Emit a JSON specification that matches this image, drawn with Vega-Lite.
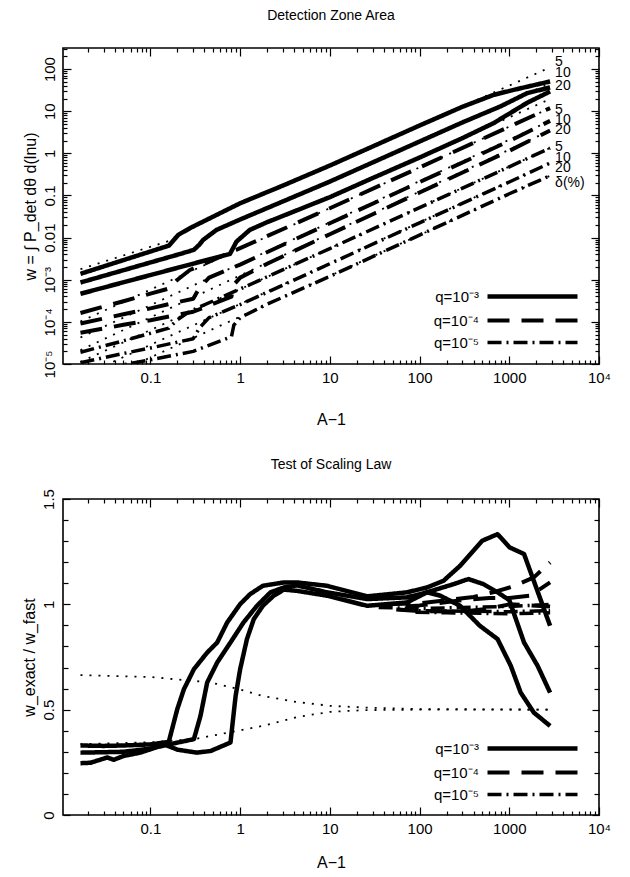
{
"$schema":"https://vega.github.io/schema/vega-lite/v6.json",
"background":"white",
"padding":{"left":20,"top":8,"right":5,"bottom":5},
"spacing":28,
"config":{
 "font":"Liberation Sans",
 "view":{"stroke":"black","strokeWidth":1.6},
 "axis":{"domain":false,"grid":false,"tickColor":"black","tickWidth":1.2,"labelColor":"black","titleColor":"black","labelFont":"Liberation Sans","labelFontSize":15,"titleFont":"Liberation Sans","titleFontSize":16,"titleFontWeight":"normal","labelOverlap":false,"labelFlush":false},
 "legend":{"labelFont":"Liberation Sans","labelFontSize":15,"labelColor":"black"},
 "title":{"font":"Liberation Sans","fontSize":14,"fontWeight":"normal","color":"black","anchor":"middle"}
},
"resolve":{"scale":{"strokeDash":"independent","strokeWidth":"independent"},"legend":{"strokeDash":"independent","strokeWidth":"independent"}},
"datasets":{
 "topExact":[
  {"A":0.0166,"w":0.00138,"q":"q=10⁻³","id":"3-5"},{"A":0.05,"w":0.002924,"q":"q=10⁻³","id":"3-5"},{"A":0.1,"w":0.004677,"q":"q=10⁻³","id":"3-5"},{"A":0.161,"w":0.006457,"q":"q=10⁻³","id":"3-5"},{"A":0.18,"w":0.008511,"q":"q=10⁻³","id":"3-5"},{"A":0.204,"w":0.01159,"q":"q=10⁻³","id":"3-5"},{"A":0.275,"w":0.01671,"q":"q=10⁻³","id":"3-5"},{"A":0.4,"w":0.02483,"q":"q=10⁻³","id":"3-5"},{"A":1,"w":0.06531,"q":"q=10⁻³","id":"3-5"},{"A":3,"w":0.1718,"q":"q=10⁻³","id":"3-5"},{"A":10,"w":0.5129,"q":"q=10⁻³","id":"3-5"},{"A":30,"w":1.455,"q":"q=10⁻³","id":"3-5"},{"A":100,"w":4.571,"q":"q=10⁻³","id":"3-5"},{"A":300,"w":12.71,"q":"q=10⁻³","id":"3-5"},{"A":673,"w":24.49,"q":"q=10⁻³","id":"3-5"},{"A":1125,"w":32.14,"q":"q=10⁻³","id":"3-5"},{"A":2850,"w":50.82,"q":"q=10⁻³","id":"3-5"},
  {"A":0.0166,"w":0.000859,"q":"q=10⁻³","id":"3-10"},{"A":0.05,"w":0.001683,"q":"q=10⁻³","id":"3-10"},{"A":0.1,"w":0.00257,"q":"q=10⁻³","id":"3-10"},{"A":0.2,"w":0.003917,"q":"q=10⁻³","id":"3-10"},{"A":0.305,"w":0.005117,"q":"q=10⁻³","id":"3-10"},{"A":0.35,"w":0.006761,"q":"q=10⁻³","id":"3-10"},{"A":0.387,"w":0.00881,"q":"q=10⁻³","id":"3-10"},{"A":0.545,"w":0.01521,"q":"q=10⁻³","id":"3-10"},{"A":1,"w":0.02692,"q":"q=10⁻³","id":"3-10"},{"A":3,"w":0.07228,"q":"q=10⁻³","id":"3-10"},{"A":10,"w":0.2138,"q":"q=10⁻³","id":"3-10"},{"A":30,"w":0.6067,"q":"q=10⁻³","id":"3-10"},{"A":100,"w":1.905,"q":"q=10⁻³","id":"3-10"},{"A":300,"w":5.408,"q":"q=10⁻³","id":"3-10"},{"A":798,"w":13.0,"q":"q=10⁻³","id":"3-10"},{"A":1585,"w":26.85,"q":"q=10⁻³","id":"3-10"},{"A":2850,"w":36.6,"q":"q=10⁻³","id":"3-10"},
  {"A":0.0166,"w":0.0004634,"q":"q=10⁻³","id":"3-20"},{"A":0.05,"w":0.000869,"q":"q=10⁻³","id":"3-20"},{"A":0.1,"w":0.001291,"q":"q=10⁻³","id":"3-20"},{"A":0.3,"w":0.00241,"q":"q=10⁻³","id":"3-20"},{"A":0.77,"w":0.004111,"q":"q=10⁻³","id":"3-20"},{"A":0.91,"w":0.008035,"q":"q=10⁻³","id":"3-20"},{"A":1.28,"w":0.01521,"q":"q=10⁻³","id":"3-20"},{"A":2,"w":0.02323,"q":"q=10⁻³","id":"3-20"},{"A":3,"w":0.03273,"q":"q=10⁻³","id":"3-20"},{"A":10,"w":0.0912,"q":"q=10⁻³","id":"3-20"},{"A":30,"w":0.2588,"q":"q=10⁻³","id":"3-20"},{"A":100,"w":0.7943,"q":"q=10⁻³","id":"3-20"},{"A":300,"w":2.291,"q":"q=10⁻³","id":"3-20"},{"A":673,"w":5.248,"q":"q=10⁻³","id":"3-20"},{"A":1585,"w":15.85,"q":"q=10⁻³","id":"3-20"},{"A":2850,"w":29.4,"q":"q=10⁻³","id":"3-20"},
  {"A":0.0166,"w":0.0001622,"q":"q=10⁻⁴","id":"4-5"},{"A":0.05,"w":0.000309,"q":"q=10⁻⁴","id":"4-5"},{"A":0.1,"w":0.0004677,"q":"q=10⁻⁴","id":"4-5"},{"A":0.16,"w":0.0006166,"q":"q=10⁻⁴","id":"4-5"},{"A":0.2,"w":0.001,"q":"q=10⁻⁴","id":"4-5"},{"A":0.275,"w":0.001698,"q":"q=10⁻⁴","id":"4-5"},{"A":1,"w":0.005623,"q":"q=10⁻⁴","id":"4-5"},{"A":10,"w":0.04977,"q":"q=10⁻⁴","id":"4-5"},{"A":100,"w":0.4624,"q":"q=10⁻⁴","id":"4-5"},{"A":1000,"w":4.295,"q":"q=10⁻⁴","id":"4-5"},{"A":2850,"w":11.86,"q":"q=10⁻⁴","id":"4-5"},
  {"A":0.0166,"w":0.0000912,"q":"q=10⁻⁴","id":"4-10"},{"A":0.05,"w":0.0001514,"q":"q=10⁻⁴","id":"4-10"},{"A":0.1,"w":0.0002089,"q":"q=10⁻⁴","id":"4-10"},{"A":0.3,"w":0.0003548,"q":"q=10⁻⁴","id":"4-10"},{"A":0.35,"w":0.000631,"q":"q=10⁻⁴","id":"4-10"},{"A":0.45,"w":0.001122,"q":"q=10⁻⁴","id":"4-10"},{"A":1,"w":0.002291,"q":"q=10⁻⁴","id":"4-10"},{"A":10,"w":0.02188,"q":"q=10⁻⁴","id":"4-10"},{"A":100,"w":0.207,"q":"q=10⁻⁴","id":"4-10"},{"A":1000,"w":1.959,"q":"q=10⁻⁴","id":"4-10"},{"A":2850,"w":5.888,"q":"q=10⁻⁴","id":"4-10"},
  {"A":0.0166,"w":0.00005495,"q":"q=10⁻⁴","id":"4-20"},{"A":0.05,"w":0.00008511,"q":"q=10⁻⁴","id":"4-20"},{"A":0.1,"w":0.0001096,"q":"q=10⁻⁴","id":"4-20"},{"A":0.3,"w":0.0001738,"q":"q=10⁻⁴","id":"4-20"},{"A":0.8,"w":0.0003981,"q":"q=10⁻⁴","id":"4-20"},{"A":0.85,"w":0.0007586,"q":"q=10⁻⁴","id":"4-20"},{"A":1,"w":0.001122,"q":"q=10⁻⁴","id":"4-20"},{"A":2,"w":0.002399,"q":"q=10⁻⁴","id":"4-20"},{"A":10,"w":0.01202,"q":"q=10⁻⁴","id":"4-20"},{"A":100,"w":0.1175,"q":"q=10⁻⁴","id":"4-20"},{"A":1000,"w":1.148,"q":"q=10⁻⁴","id":"4-20"},{"A":2850,"w":3.467,"q":"q=10⁻⁴","id":"4-20"},
  {"A":0.0166,"w":0.00001905,"q":"q=10⁻⁵","id":"5-5"},{"A":0.05,"w":0.00003548,"q":"q=10⁻⁵","id":"5-5"},{"A":0.16,"w":0.00007079,"q":"q=10⁻⁵","id":"5-5"},{"A":0.2,"w":0.0001122,"q":"q=10⁻⁵","id":"5-5"},{"A":0.275,"w":0.0001778,"q":"q=10⁻⁵","id":"5-5"},{"A":1,"w":0.0006026,"q":"q=10⁻⁵","id":"5-5"},{"A":10,"w":0.005495,"q":"q=10⁻⁵","id":"5-5"},{"A":100,"w":0.05129,"q":"q=10⁻⁵","id":"5-5"},{"A":1000,"w":0.4786,"q":"q=10⁻⁵","id":"5-5"},{"A":2850,"w":1.337,"q":"q=10⁻⁵","id":"5-5"},
  {"A":0.0166,"w":0.00001072,"q":"q=10⁻⁵","id":"5-10"},{"A":0.05,"w":0.00001778,"q":"q=10⁻⁵","id":"5-10"},{"A":0.1,"w":0.00002399,"q":"q=10⁻⁵","id":"5-10"},{"A":0.3,"w":0.00003981,"q":"q=10⁻⁵","id":"5-10"},{"A":0.35,"w":0.00007079,"q":"q=10⁻⁵","id":"5-10"},{"A":0.45,"w":0.0001259,"q":"q=10⁻⁵","id":"5-10"},{"A":1,"w":0.000257,"q":"q=10⁻⁵","id":"5-10"},{"A":10,"w":0.002399,"q":"q=10⁻⁵","id":"5-10"},{"A":100,"w":0.02239,"q":"q=10⁻⁵","id":"5-10"},{"A":1000,"w":0.2089,"q":"q=10⁻⁵","id":"5-10"},{"A":2850,"w":0.5888,"q":"q=10⁻⁵","id":"5-10"},
  {"A":0.0166,"w":0.00000631,"q":"q=10⁻⁵","id":"5-20"},{"A":0.05,"w":0.00000955,"q":"q=10⁻⁵","id":"5-20"},{"A":0.1,"w":0.00001259,"q":"q=10⁻⁵","id":"5-20"},{"A":0.3,"w":0.00001995,"q":"q=10⁻⁵","id":"5-20"},{"A":0.8,"w":0.00004467,"q":"q=10⁻⁵","id":"5-20"},{"A":0.85,"w":0.00008318,"q":"q=10⁻⁵","id":"5-20"},{"A":1,"w":0.0001259,"q":"q=10⁻⁵","id":"5-20"},{"A":2,"w":0.000263,"q":"q=10⁻⁵","id":"5-20"},{"A":10,"w":0.001202,"q":"q=10⁻⁵","id":"5-20"},{"A":100,"w":0.01148,"q":"q=10⁻⁵","id":"5-20"},{"A":1000,"w":0.1096,"q":"q=10⁻⁵","id":"5-20"},{"A":2850,"w":0.2944,"q":"q=10⁻⁵","id":"5-20"}
 ],
 "topFast":[
  {"A":0.0166,"w":0.001778,"id":"3-5"},{"A":0.16,"w":0.008318,"id":"3-5"},{"A":0.3,"w":0.01995,"id":"3-5"},{"A":1,"w":0.06531,"id":"3-5"},{"A":10,"w":0.5129,"id":"3-5"},{"A":100,"w":4.571,"id":"3-5"},{"A":2850,"w":109.6,"id":"3-5"},
  {"A":10,"w":0.2138,"id":"3-10"},{"A":100,"w":1.905,"id":"3-10"},{"A":2850,"w":45.71,"id":"3-10"},
  {"A":10,"w":0.0912,"id":"3-20"},{"A":100,"w":0.7943,"id":"3-20"},{"A":2850,"w":19.5,"id":"3-20"},
  {"A":0.0166,"w":0.0001023,"id":"4-5"},{"A":2850,"w":11.86,"id":"4-5"},
  {"A":0.0166,"w":0.00004266,"id":"4-10"},{"A":2850,"w":5.888,"id":"4-10"},
  {"A":0.0166,"w":0.00002138,"id":"4-20"},{"A":2850,"w":3.467,"id":"4-20"},
  {"A":0.0166,"w":0.00001122,"id":"5-5"},{"A":2850,"w":1.337,"id":"5-5"},
  {"A":0.0166,"w":0.000005012,"id":"5-10"},{"A":2850,"w":0.5888,"id":"5-10"},
  {"A":0.0166,"w":0.000002512,"id":"5-20"},{"A":2850,"w":0.2944,"id":"5-20"}
 ],
 "topLabels":[
  {"A":2850,"w":148,"t":"5"},{"A":2850,"w":78.7,"t":"10"},{"A":2850,"w":39.4,"t":"20"},
  {"A":2850,"w":10.6,"t":"5"},{"A":2850,"w":6.15,"t":"10"},{"A":2850,"w":3.56,"t":"20"},
  {"A":2850,"w":1.43,"t":"5"},{"A":2850,"w":0.774,"t":"10"},{"A":2850,"w":0.449,"t":"20"},
  {"A":2850,"w":0.198,"t":"δ(%)"}
 ],
 "botExact":[
  {"A":0.0166,"r":0.33,"q":"q=10⁻³","id":"3-5"},{"A":0.03,"r":0.328,"q":"q=10⁻³","id":"3-5"},{"A":0.05,"r":0.33,"q":"q=10⁻³","id":"3-5"},{"A":0.1,"r":0.335,"q":"q=10⁻³","id":"3-5"},{"A":0.16,"r":0.347,"q":"q=10⁻³","id":"3-5"},{"A":0.199,"r":0.502,"q":"q=10⁻³","id":"3-5"},{"A":0.236,"r":0.597,"q":"q=10⁻³","id":"3-5"},{"A":0.305,"r":0.692,"q":"q=10⁻³","id":"3-5"},{"A":0.429,"r":0.771,"q":"q=10⁻³","id":"3-5"},{"A":0.555,"r":0.819,"q":"q=10⁻³","id":"3-5"},{"A":0.717,"r":0.914,"q":"q=10⁻³","id":"3-5"},{"A":1.0,"r":1.001,"q":"q=10⁻³","id":"3-5"},{"A":1.29,"r":1.048,"q":"q=10⁻³","id":"3-5"},{"A":1.79,"r":1.088,"q":"q=10⁻³","id":"3-5"},{"A":3.07,"r":1.104,"q":"q=10⁻³","id":"3-5"},{"A":4.3,"r":1.104,"q":"q=10⁻³","id":"3-5"},{"A":9.3,"r":1.088,"q":"q=10⁻³","id":"3-5"},{"A":26,"r":1.038,"q":"q=10⁻³","id":"3-5"},{"A":72.5,"r":1.057,"q":"q=10⁻³","id":"3-5"},{"A":121,"r":1.08,"q":"q=10⁻³","id":"3-5"},{"A":185,"r":1.112,"q":"q=10⁻³","id":"3-5"},{"A":283,"r":1.183,"q":"q=10⁻³","id":"3-5"},{"A":500,"r":1.302,"q":"q=10⁻³","id":"3-5"},{"A":740,"r":1.333,"q":"q=10⁻³","id":"3-5"},{"A":1010,"r":1.27,"q":"q=10⁻³","id":"3-5"},{"A":1460,"r":1.239,"q":"q=10⁻³","id":"3-5"},{"A":2850,"r":0.898,"q":"q=10⁻³","id":"3-5"},
  {"A":0.0166,"r":0.296,"q":"q=10⁻³","id":"3-10"},{"A":0.03,"r":0.298,"q":"q=10⁻³","id":"3-10"},{"A":0.05,"r":0.3,"q":"q=10⁻³","id":"3-10"},{"A":0.1,"r":0.315,"q":"q=10⁻³","id":"3-10"},{"A":0.16,"r":0.335,"q":"q=10⁻³","id":"3-10"},{"A":0.305,"r":0.36,"q":"q=10⁻³","id":"3-10"},{"A":0.361,"r":0.47,"q":"q=10⁻³","id":"3-10"},{"A":0.429,"r":0.629,"q":"q=10⁻³","id":"3-10"},{"A":0.555,"r":0.724,"q":"q=10⁻³","id":"3-10"},{"A":0.78,"r":0.819,"q":"q=10⁻³","id":"3-10"},{"A":1.09,"r":0.914,"q":"q=10⁻³","id":"3-10"},{"A":1.54,"r":0.993,"q":"q=10⁻³","id":"3-10"},{"A":2.18,"r":1.057,"q":"q=10⁻³","id":"3-10"},{"A":3.07,"r":1.08,"q":"q=10⁻³","id":"3-10"},{"A":4.3,"r":1.09,"q":"q=10⁻³","id":"3-10"},{"A":9.3,"r":1.057,"q":"q=10⁻³","id":"3-10"},{"A":26,"r":1.025,"q":"q=10⁻³","id":"3-10"},{"A":72.5,"r":1.033,"q":"q=10⁻³","id":"3-10"},{"A":121,"r":1.057,"q":"q=10⁻³","id":"3-10"},{"A":240,"r":1.096,"q":"q=10⁻³","id":"3-10"},{"A":350,"r":1.12,"q":"q=10⁻³","id":"3-10"},{"A":515,"r":1.096,"q":"q=10⁻³","id":"3-10"},{"A":740,"r":1.057,"q":"q=10⁻³","id":"3-10"},{"A":1000,"r":1.02,"q":"q=10⁻³","id":"3-10"},{"A":1460,"r":0.819,"q":"q=10⁻³","id":"3-10"},{"A":2070,"r":0.708,"q":"q=10⁻³","id":"3-10"},{"A":2850,"r":0.581,"q":"q=10⁻³","id":"3-10"},
  {"A":0.0166,"r":0.246,"q":"q=10⁻³","id":"3-20"},{"A":0.0215,"r":0.248,"q":"q=10⁻³","id":"3-20"},{"A":0.033,"r":0.273,"q":"q=10⁻³","id":"3-20"},{"A":0.039,"r":0.262,"q":"q=10⁻³","id":"3-20"},{"A":0.05,"r":0.28,"q":"q=10⁻³","id":"3-20"},{"A":0.077,"r":0.296,"q":"q=10⁻³","id":"3-20"},{"A":0.1,"r":0.312,"q":"q=10⁻³","id":"3-20"},{"A":0.141,"r":0.336,"q":"q=10⁻³","id":"3-20"},{"A":0.2,"r":0.31,"q":"q=10⁻³","id":"3-20"},{"A":0.33,"r":0.296,"q":"q=10⁻³","id":"3-20"},{"A":0.47,"r":0.304,"q":"q=10⁻³","id":"3-20"},{"A":0.78,"r":0.344,"q":"q=10⁻³","id":"3-20"},{"A":0.89,"r":0.565,"q":"q=10⁻³","id":"3-20"},{"A":1.0,"r":0.692,"q":"q=10⁻³","id":"3-20"},{"A":1.19,"r":0.835,"q":"q=10⁻³","id":"3-20"},{"A":1.42,"r":0.93,"q":"q=10⁻³","id":"3-20"},{"A":1.79,"r":0.993,"q":"q=10⁻³","id":"3-20"},{"A":2.35,"r":1.04,"q":"q=10⁻³","id":"3-20"},{"A":3.07,"r":1.07,"q":"q=10⁻³","id":"3-20"},{"A":4.3,"r":1.064,"q":"q=10⁻³","id":"3-20"},{"A":9.3,"r":1.041,"q":"q=10⁻³","id":"3-20"},{"A":26,"r":0.993,"q":"q=10⁻³","id":"3-20"},{"A":72.5,"r":1.009,"q":"q=10⁻³","id":"3-20"},{"A":121,"r":1.057,"q":"q=10⁻³","id":"3-20"},{"A":170,"r":1.041,"q":"q=10⁻³","id":"3-20"},{"A":283,"r":0.993,"q":"q=10⁻³","id":"3-20"},{"A":470,"r":0.898,"q":"q=10⁻³","id":"3-20"},{"A":740,"r":0.835,"q":"q=10⁻³","id":"3-20"},{"A":1040,"r":0.708,"q":"q=10⁻³","id":"3-20"},{"A":1340,"r":0.581,"q":"q=10⁻³","id":"3-20"},{"A":1880,"r":0.486,"q":"q=10⁻³","id":"3-20"},{"A":2850,"r":0.423,"q":"q=10⁻³","id":"3-20"},
  {"A":45,"r":1.0,"q":"q=10⁻⁴","id":"4-5"},{"A":100,"r":1.005,"q":"q=10⁻⁴","id":"4-5"},{"A":200,"r":1.02,"q":"q=10⁻⁴","id":"4-5"},{"A":400,"r":1.035,"q":"q=10⁻⁴","id":"4-5"},{"A":700,"r":1.06,"q":"q=10⁻⁴","id":"4-5"},{"A":1100,"r":1.085,"q":"q=10⁻⁴","id":"4-5"},{"A":1880,"r":1.128,"q":"q=10⁻⁴","id":"4-5"},{"A":2850,"r":1.199,"q":"q=10⁻⁴","id":"4-5"},
  {"A":70,"r":0.99,"q":"q=10⁻⁴","id":"4-10"},{"A":100,"r":0.995,"q":"q=10⁻⁴","id":"4-10"},{"A":300,"r":1.02,"q":"q=10⁻⁴","id":"4-10"},{"A":600,"r":1.03,"q":"q=10⁻⁴","id":"4-10"},{"A":1000,"r":1.03,"q":"q=10⁻⁴","id":"4-10"},{"A":1700,"r":1.041,"q":"q=10⁻⁴","id":"4-10"},{"A":2850,"r":1.104,"q":"q=10⁻⁴","id":"4-10"},
  {"A":55,"r":0.975,"q":"q=10⁻⁴","id":"4-20"},{"A":100,"r":0.968,"q":"q=10⁻⁴","id":"4-20"},{"A":300,"r":0.965,"q":"q=10⁻⁴","id":"4-20"},{"A":600,"r":0.98,"q":"q=10⁻⁴","id":"4-20"},{"A":1000,"r":1.0,"q":"q=10⁻⁴","id":"4-20"},{"A":2850,"r":0.99,"q":"q=10⁻⁴","id":"4-20"},
  {"A":35,"r":0.985,"q":"q=10⁻⁵","id":"5-5"},{"A":100,"r":0.98,"q":"q=10⁻⁵","id":"5-5"},{"A":300,"r":0.985,"q":"q=10⁻⁵","id":"5-5"},{"A":1000,"r":0.99,"q":"q=10⁻⁵","id":"5-5"},{"A":2850,"r":1.0,"q":"q=10⁻⁵","id":"5-5"},
  {"A":60,"r":0.975,"q":"q=10⁻⁵","id":"5-10"},{"A":100,"r":0.97,"q":"q=10⁻⁵","id":"5-10"},{"A":1000,"r":0.965,"q":"q=10⁻⁵","id":"5-10"},{"A":2850,"r":0.97,"q":"q=10⁻⁵","id":"5-10"},
  {"A":90,"r":0.962,"q":"q=10⁻⁵","id":"5-20"},{"A":200,"r":0.96,"q":"q=10⁻⁵","id":"5-20"},{"A":1000,"r":0.955,"q":"q=10⁻⁵","id":"5-20"},{"A":2850,"r":0.96,"q":"q=10⁻⁵","id":"5-20"}
 ],
 "botFast":[
  {"A":0.0166,"r":0.664,"id":"u"},{"A":0.1,"r":0.655,"id":"u"},{"A":0.47,"r":0.629,"id":"u"},{"A":0.92,"r":0.6,"id":"u"},{"A":1.79,"r":0.565,"id":"u"},{"A":4.3,"r":0.536,"id":"u"},{"A":10.2,"r":0.518,"id":"u"},{"A":25,"r":0.51,"id":"u"},{"A":100,"r":0.503,"id":"u"},{"A":2850,"r":0.5,"id":"u"},
  {"A":0.0166,"r":0.336,"id":"l"},{"A":0.1,"r":0.345,"id":"l"},{"A":0.305,"r":0.36,"id":"l"},{"A":0.92,"r":0.399,"id":"l"},{"A":1.79,"r":0.423,"id":"l"},{"A":4.3,"r":0.465,"id":"l"},{"A":10.2,"r":0.49,"id":"l"},{"A":25,"r":0.498,"id":"l"},{"A":100,"r":0.5,"id":"l"},{"A":2850,"r":0.5,"id":"l"}
 ]
},
"vconcat":[
 {
  "title":{"text":"Detection Zone Area","offset":24},
  "width":536,"height":316,
  "resolve":{"axis":{"x":"independent","y":"independent"}},
  "layer":[
   {
    "data":{"name":"topFast"},
    "mark":{"type":"line","color":"black","strokeDash":[2,7],"strokeWidth":1.8,"clip":true},
    "encoding":{
     "x":{"field":"A","type":"quantitative","scale":{"type":"log","domain":[0.0106,10000],"nice":false},
      "axis":{"orient":"top","values":[0.1,1,10,100,1000,10000],"tickSize":-8,"labels":false,"title":null}},
     "y":{"field":"w","type":"quantitative","scale":{"type":"log","domain":[0.00001,316],"nice":false},
      "axis":{"orient":"right","values":[0.00001,0.0001,0.001,0.01,0.1,1,10,100],"tickSize":-8,"labels":false,"title":null}},
     "detail":{"field":"id"}
    }
   },
   {
    "data":{"name":"topExact"},
    "mark":{"type":"line","color":"black","clip":true,"strokeJoin":"round"},
    "encoding":{
     "x":{"field":"A","type":"quantitative",
      "axis":{"orient":"bottom","values":[0.1,1,10,100,1000,10000],"tickSize":-8,"labelPadding":14,"labelExpr":"datum.value == 10000 ? '10⁴' : format(datum.value, '~g')","title":"A−1","titlePadding":26}},
     "y":{"field":"w","type":"quantitative",
      "axis":{"orient":"left","values":[0.00001,0.0001,0.001,0.01,0.1,1,10,100],"tickSize":-8,"labelAngle":-90,"labelAlign":"center","labelBaseline":"bottom","labelPadding":14,"labelExpr":"datum.value < 0.00005 ? '10⁻⁵' : datum.value < 0.0005 ? '10⁻⁴' : datum.value < 0.005 ? '10⁻³' : format(datum.value, '~g')","title":"w = ∫ P_det dθ d(lnu)","titlePadding":4}},
     "detail":{"field":"id"},
     "strokeDash":{"field":"q","type":"nominal","scale":{"domain":["q=10⁻³","q=10⁻⁴","q=10⁻⁵"],"range":[[1,0],[22,12],[14,5,2,5]]},
      "legend":{"orient":"none","legendX":462,"legendY":241,"title":null,"symbolType":"M-9,0H9","symbolSize":100,"symbolStrokeColor":"black","rowPadding":6,"labelAlign":"right","labelOffset":-61,"padding":0}},
     "strokeWidth":{"field":"q","type":"nominal","scale":{"domain":["q=10⁻³","q=10⁻⁴","q=10⁻⁵"],"range":[4.5,3.5,1.5]},
      "legend":{"orient":"none","legendX":462,"legendY":241,"title":null,"symbolType":"M-9,0H9","symbolSize":100,"symbolStrokeColor":"black","rowPadding":6,"labelAlign":"right","labelOffset":-61,"padding":0}}
    }
   },
   {
    "data":{"name":"topFast"},
    "mark":{"type":"line","opacity":0},
    "encoding":{
     "x":{"field":"A","type":"quantitative","axis":{"orient":"bottom","values":[0.02,0.03,0.04,0.05,0.06,0.07,0.08,0.09,0.2,0.3,0.4,0.5,0.6,0.7,0.8,0.9,2,3,4,5,6,7,8,9,20,30,40,50,60,70,80,90,200,300,400,500,600,700,800,900,2000,3000,4000,5000,6000,7000,8000,9000],"tickSize":-4,"labels":false,"title":null}},
     "y":{"field":"w","type":"quantitative","axis":{"orient":"left","values":[0.00002,0.00003,0.00004,0.00005,0.00006,0.00007,0.00008,0.00009,0.0002,0.0003,0.0004,0.0005,0.0006,0.0007,0.0008,0.0009,0.002,0.003,0.004,0.005,0.006,0.007,0.008,0.009,0.02,0.03,0.04,0.05,0.06,0.07,0.08,0.09,0.2,0.3,0.4,0.5,0.6,0.7,0.8,0.9,2,3,4,5,6,7,8,9,20,30,40,50,60,70,80,90,200,300],"tickSize":-4,"labels":false,"title":null}},
     "detail":{"field":"id"}
    }
   },
   {
    "data":{"name":"topFast"},
    "mark":{"type":"line","opacity":0},
    "encoding":{
     "x":{"field":"A","type":"quantitative","axis":{"orient":"top","values":[0.02,0.03,0.04,0.05,0.06,0.07,0.08,0.09,0.2,0.3,0.4,0.5,0.6,0.7,0.8,0.9,2,3,4,5,6,7,8,9,20,30,40,50,60,70,80,90,200,300,400,500,600,700,800,900,2000,3000,4000,5000,6000,7000,8000,9000],"tickSize":-4,"labels":false,"title":null}},
     "y":{"field":"w","type":"quantitative","axis":{"orient":"right","values":[0.00002,0.00003,0.00004,0.00005,0.00006,0.00007,0.00008,0.00009,0.0002,0.0003,0.0004,0.0005,0.0006,0.0007,0.0008,0.0009,0.002,0.003,0.004,0.005,0.006,0.007,0.008,0.009,0.02,0.03,0.04,0.05,0.06,0.07,0.08,0.09,0.2,0.3,0.4,0.5,0.6,0.7,0.8,0.9,2,3,4,5,6,7,8,9,20,30,40,50,60,70,80,90,200,300],"tickSize":-4,"labels":false,"title":null}},
     "detail":{"field":"id"}
    }
   },
   {
    "data":{"name":"topLabels"},
    "mark":{"type":"text","align":"left","baseline":"middle","dx":5,"fontSize":14,"font":"Liberation Sans","color":"black"},
    "encoding":{
     "x":{"field":"A","type":"quantitative","axis":null},
     "y":{"field":"w","type":"quantitative","axis":null},
     "text":{"field":"t"}
    }
   }
  ]
 },
 {
  "title":{"text":"Test of Scaling Law","offset":17},
  "width":536,"height":316,
  "resolve":{"axis":{"x":"independent","y":"independent"}},
  "layer":[
   {
    "mark":{"type":"rule","color":"black","strokeDash":[2,7],"strokeWidth":1.8},
    "encoding":{"y":{"datum":1,"type":"quantitative","scale":{"domain":[0,1.5],"nice":false},"axis":null}}
   },
   {
    "data":{"name":"botFast"},
    "mark":{"type":"line","color":"black","strokeDash":[2,7],"strokeWidth":1.8,"clip":true},
    "encoding":{
     "x":{"field":"A","type":"quantitative","scale":{"type":"log","domain":[0.0106,10000],"nice":false},
      "axis":{"orient":"top","values":[0.1,1,10,100,1000,10000],"tickSize":-8,"labels":false,"title":null}},
     "y":{"field":"r","type":"quantitative",
      "axis":{"orient":"right","values":[0,0.5,1,1.5],"tickSize":-7,"labels":false,"title":null}},
     "detail":{"field":"id"}
    }
   },
   {
    "data":{"name":"botExact"},
    "mark":{"type":"line","color":"black","clip":true,"strokeJoin":"round"},
    "encoding":{
     "x":{"field":"A","type":"quantitative",
      "axis":{"orient":"bottom","values":[0.1,1,10,100,1000,10000],"tickSize":-8,"labelPadding":14,"labelExpr":"datum.value == 10000 ? '10⁴' : format(datum.value, '~g')","title":"A−1","titlePadding":18}},
     "y":{"field":"r","type":"quantitative",
      "axis":{"orient":"left","values":[0,0.5,1,1.5],"tickSize":-7,"labelAngle":-90,"labelAlign":"center","labelBaseline":"bottom","labelPadding":14,"labelExpr":"format(datum.value, '~g')","title":"w_exact / w_fast","titlePadding":4}},
     "detail":{"field":"id"},
     "strokeDash":{"field":"q","type":"nominal","scale":{"domain":["q=10⁻³","q=10⁻⁴","q=10⁻⁵"],"range":[[1,0],[22,12],[14,5,2,5]]},
      "legend":{"orient":"none","legendX":462,"legendY":242,"title":null,"symbolType":"M-9,0H9","symbolSize":100,"symbolStrokeColor":"black","rowPadding":6,"labelAlign":"right","labelOffset":-61,"padding":0}},
     "strokeWidth":{"field":"q","type":"nominal","scale":{"domain":["q=10⁻³","q=10⁻⁴","q=10⁻⁵"],"range":[4.5,3.5,1.5]},
      "legend":{"orient":"none","legendX":462,"legendY":242,"title":null,"symbolType":"M-9,0H9","symbolSize":100,"symbolStrokeColor":"black","rowPadding":6,"labelAlign":"right","labelOffset":-61,"padding":0}}
    }
   },
   {
    "data":{"name":"botFast"},
    "mark":{"type":"line","opacity":0},
    "encoding":{
     "x":{"field":"A","type":"quantitative","axis":{"orient":"bottom","values":[0.02,0.03,0.04,0.05,0.06,0.07,0.08,0.09,0.2,0.3,0.4,0.5,0.6,0.7,0.8,0.9,2,3,4,5,6,7,8,9,20,30,40,50,60,70,80,90,200,300,400,500,600,700,800,900,2000,3000,4000,5000,6000,7000,8000,9000],"tickSize":-4,"labels":false,"title":null}},
     "y":{"field":"r","type":"quantitative","axis":{"orient":"left","values":[0.1,0.2,0.3,0.4,0.6,0.7,0.8,0.9,1.1,1.2,1.3,1.4],"tickSize":-5,"labels":false,"title":null}},
     "detail":{"field":"id"}
    }
   },
   {
    "data":{"name":"botFast"},
    "mark":{"type":"line","opacity":0},
    "encoding":{
     "x":{"field":"A","type":"quantitative","axis":{"orient":"top","values":[0.02,0.03,0.04,0.05,0.06,0.07,0.08,0.09,0.2,0.3,0.4,0.5,0.6,0.7,0.8,0.9,2,3,4,5,6,7,8,9,20,30,40,50,60,70,80,90,200,300,400,500,600,700,800,900,2000,3000,4000,5000,6000,7000,8000,9000],"tickSize":-4,"labels":false,"title":null}},
     "y":{"field":"r","type":"quantitative","axis":{"orient":"right","values":[0.1,0.2,0.3,0.4,0.6,0.7,0.8,0.9,1.1,1.2,1.3,1.4],"tickSize":-5,"labels":false,"title":null}},
     "detail":{"field":"id"}
    }
   }
  ]
 }
]
}
